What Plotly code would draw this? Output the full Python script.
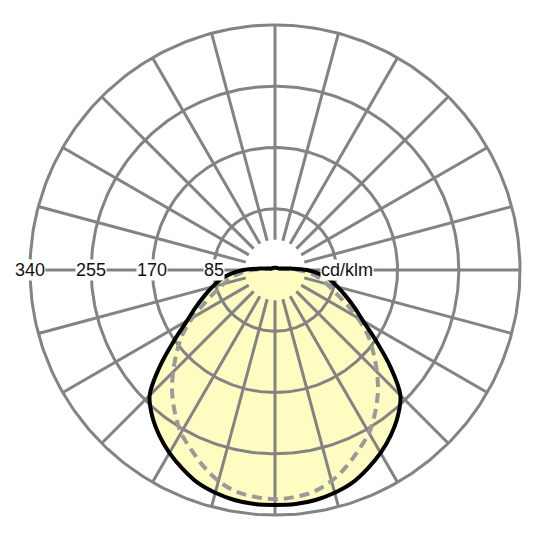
import numpy as np
import plotly.graph_objects as go

# luminous intensity distribution, cd/klm, gamma measured from nadir (symmetric)
gamma = list(range(0, 185, 5))
c0_c180 = [326, 326, 324, 320, 314, 304, 293, 280, 265, 246,
           209, 171, 141, 121, 104, 90, 77, 62, 44, 22,
           12, 8, 6, 5.5, 5, 4.5, 4.2, 4, 3.8, 3.6,
           3.5, 3.4, 3.3, 3.2, 3.1, 3, 3]
c90_c270 = [318, 316, 312, 303, 290, 275, 261, 242, 222, 200,
            178, 157, 132, 107, 88, 74, 62, 48, 32, 16,
            9, 6, 5, 4.5, 4, 3.6, 3.3, 3.1, 3, 2.9,
            2.8, 2.7, 2.6, 2.6, 2.5, 2.5, 2.5]

ring_values = [85, 170, 255, 340]
ring_labels = ["85", "170", "255", "340"]
spoke_angles = list(range(0, 360, 15))
unit_label = "cd/klm"

GRID = "#838383"


def to_xy(angles_deg, radii):
    a = np.radians(np.asarray(angles_deg, dtype=float))
    r = np.asarray(radii, dtype=float)
    return r * np.sin(a), -r * np.cos(a)


def full_curve(values):
    g = np.array(gamma, dtype=float)
    v = np.array(values, dtype=float)
    ang = np.concatenate([-g[::-1], g[1:]])
    val = np.concatenate([v[::-1], v[1:]])
    return to_xy(ang, val)


fig = go.Figure()

# yellow fill of the main curve
sx, sy = full_curve(c0_c180)
fig.add_trace(go.Scatter(x=sx, y=sy, mode="lines", fill="toself",
                         fillcolor="#FFFCC2", line=dict(width=0, shape="spline"),
                         hoverinfo="skip", showlegend=False))

# grid: rings
t = np.linspace(0, 360, 361)
for rv in ring_values:
    cx, cy = to_xy(t, np.full_like(t, rv))
    fig.add_trace(go.Scatter(x=cx, y=cy, mode="lines",
                             line=dict(color=GRID, width=3),
                             hoverinfo="skip", showlegend=False))

# grid: spokes, starting a little off the centre
r_in = 42
gx, gy = [], []
for a in spoke_angles:
    px, py = to_xy([a, a], [r_in, ring_values[-1]])
    gx += list(px) + [None]
    gy += list(py) + [None]
fig.add_trace(go.Scatter(x=gx, y=gy, mode="lines",
                         line=dict(color=GRID, width=3),
                         hoverinfo="skip", showlegend=False))

# C90-C270 dashed, C0-C180 solid
dx, dy = full_curve(c90_c270)
fig.add_trace(go.Scatter(x=dx, y=dy, mode="lines", name="C90 - C270",
                         line=dict(color="#9a9a9a", width=4, dash="10px,6px", shape="spline"),
                         showlegend=False))
fig.add_trace(go.Scatter(x=sx, y=sy, mode="lines", name="C0 - C180",
                         line=dict(color="black", width=4, shape="spline"),
                         showlegend=False))

# radial scale labels along the horizontal axis
for rv, lab in zip(ring_values, ring_labels):
    fig.add_annotation(x=-rv, y=0, text=lab, showarrow=False,
                       bgcolor="white", borderpad=0,
                       font=dict(family="Liberation Sans, Arial", size=18, color="#111111"))
fig.add_annotation(x=100, y=0, text=unit_label, showarrow=False,
                   bgcolor="white", borderpad=0,
                   font=dict(family="Liberation Sans, Arial", size=18, color="#111111"))

# ranges chosen so the pole sits at (275, 270) in the page (body has an 8px margin)
fig.update_layout(
    width=540, height=540,
    margin=dict(l=0, r=0, t=0, b=0),
    paper_bgcolor="white", plot_bgcolor="white",
    xaxis=dict(visible=False, range=[-370.5, 378.8]),
    yaxis=dict(visible=False, range=[-385.7, 363.5]),
)

fig.write_html("out.html")
